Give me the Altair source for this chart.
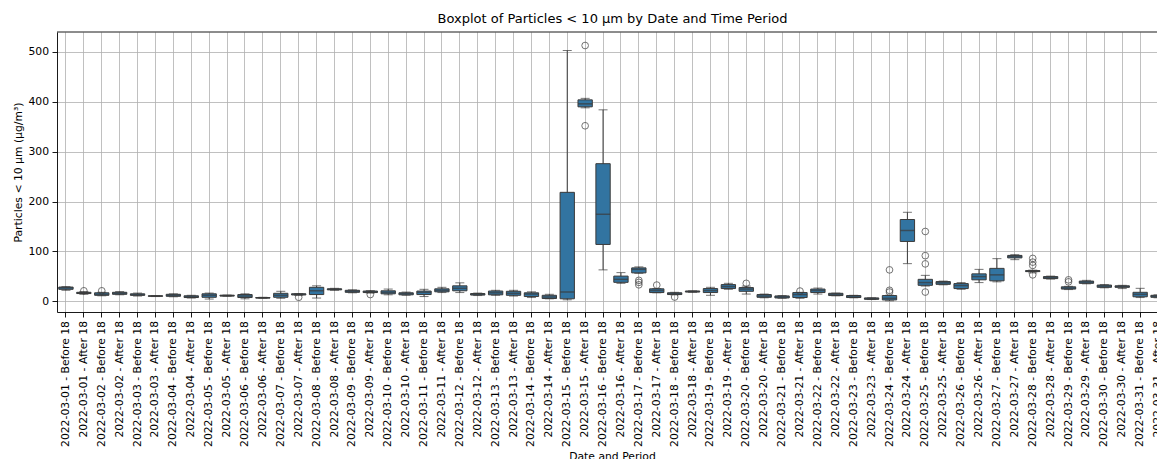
import altair as alt
import pandas as pd

dates = [f"2022-03-{d:02d}" for d in range(1, 32)]
periods = ["Before 18", "After 18"]
categories = [f"{d} - {p}" for d in dates for p in periods]

whisker_low = [22, 14, 11, 13, 10.5, 9.5, 9, 6.5, 4.5, 10, 5, 6, 6, 12, 6.5, 22, 17, 16.5, 13, 12,
               9.5, 17.5, 17.5, 11.5, 12, 10.5, 7.5, 5, 3, 388, 63, 36, 56, 17, 13, 18, 12, 24, 14.5, 7,
               6, 6, 14.5, 11, 7, 3.5, 1, 75.5, 30.5, 33, 24, 37.5, 39, 83.5, 57, 44.5, 23.5, 35, 27, 25.5,
               7.5, 7]
q1 = [24, 15.5, 12, 14, 12, 10, 10, 7.5, 8, 10.5, 7.5, 6.5, 8, 12.7, 13.5, 23, 18, 17.5, 15, 13,
      13.5, 19, 21, 12.5, 13, 12, 9.5, 5.5, 5, 390, 114, 38, 57, 17.5, 13.5, 18.7, 17.5, 25.5, 20, 8,
      6.7, 7.5, 17.5, 11.5, 7.5, 4, 2.7, 120, 32, 34, 25.5, 43, 41, 87, 59.5, 45.5, 24.5, 36, 28, 28,
      9, 8]
median = [27, 17, 14, 16, 13, 10.5, 12, 9, 12, 11.5, 10.5, 7, 12, 14, 21, 24, 20, 19, 18, 15.5,
          18, 22, 26, 14, 17, 16, 14.5, 8.5, 18.5, 396, 174.5, 44, 64, 21.5, 15.5, 19.5, 21.5, 29.5, 24.5, 10.5,
          8.7, 13.5, 21.5, 14, 8.7, 5.3, 6, 142, 37.5, 37, 31.5, 49.5, 53, 89.5, 60.5, 47.5, 26.5, 38.5, 30.5, 29.5,
          14, 10]
q3 = [28.5, 18, 17, 18, 15, 11, 14, 11, 15, 12, 13.5, 7.5, 16, 15, 28, 25, 22, 20.5, 21, 17,
      20.5, 25, 31, 15.5, 20.5, 20, 17, 12, 218.5, 404, 276, 50.5, 67, 25, 17, 20.5, 25.5, 33.5, 27.5, 13.5,
      10.7, 17.5, 24.5, 16, 11.5, 6.7, 11.5, 164, 44, 39.5, 35.5, 55, 66, 92, 61.5, 49.5, 29, 40.5, 32.5, 31,
      18, 12]
whisker_high = [29.5, 19.5, 18, 19.5, 16.5, 11.5, 15, 12, 16.5, 12.5, 15, 8, 20, 15.5, 31, 26, 23, 21.5, 24.5, 18.5,
                24, 28, 37, 16.5, 22, 22, 19, 14, 503, 407, 384, 57.5, 69, 25.5, 18, 21, 28, 36, 30.5, 14.5,
                11.5, 18, 26.5, 16.5, 12, 7, 12, 178.5, 52, 40.5, 37.5, 64, 85.5, 93.5, 62.5, 50.5, 30, 42, 33.5, 32,
                26, 13]

outlier_cat = [1, 2, 13, 17, 29, 29, 32, 32, 32, 33, 34, 38, 41, 46, 46, 46,
               48, 48, 48, 48, 54, 54, 54, 54, 56, 56]
outlier_val = [21, 21, 8, 13.5, 513, 352, 42, 38, 33, 32.5, 8.5, 36, 20.5, 63, 22, 18.5,
               140, 91.5, 75, 18.5, 86, 78.5, 72, 53, 43, 39]

box_df = pd.DataFrame({
    "cat": categories, "lo": whisker_low, "q1": q1, "med": median, "q3": q3, "hi": whisker_high,
})
out_df = pd.DataFrame({"cat": [categories[i] for i in outlier_cat], "val": outlier_val})

FONT = "DejaVu Sans"
EDGE = "#3a3a3a"
FILL = "#3274a1"
YTITLE = "Particles < 10 µm (µg/m³)"

xscale = alt.Scale(type="band", domain=categories, range=[0, 1110], paddingInner=0, paddingOuter=0)
xaxis = alt.Axis(title="Date and Period", labelAngle=-90, grid=True, bandPosition=0.5,
                 titleX=555, titleY=138, titleAlign="center", titleBaseline="top")
x_enc = alt.X("cat:N", scale=xscale, axis=xaxis, sort=categories)

yscale = alt.Scale(domain=[-21.5, 540.1], nice=False, zero=False)
yaxis = alt.Axis(title=YTITLE, values=[0, 100, 200, 300, 400, 500], grid=True,
                 titleX=-39, titleY=140, titleAngle=-90, titleAlign="center", titleBaseline="middle")

base = alt.Chart(box_df)

whiskers = base.mark_rule(color=EDGE, strokeWidth=1).encode(
    x=x_enc, y=alt.Y("lo:Q", scale=yscale, axis=yaxis), y2="hi:Q")
boxes = base.mark_bar(color=FILL, stroke=EDGE, strokeWidth=1, width={"band": 0.8}).encode(
    x=x_enc, y=alt.Y("q1:Q", scale=yscale, axis=yaxis), y2="q3:Q")
medians = base.mark_tick(color=EDGE, thickness=1.5, size=14.3).encode(
    x=x_enc, y=alt.Y("med:Q", scale=yscale, axis=yaxis))
caps_lo = base.mark_tick(color=EDGE, thickness=1, size=9).encode(
    x=x_enc, y=alt.Y("lo:Q", scale=yscale, axis=yaxis))
caps_hi = base.mark_tick(color=EDGE, thickness=1, size=9).encode(
    x=x_enc, y=alt.Y("hi:Q", scale=yscale, axis=yaxis))
outliers = alt.Chart(out_df).mark_point(shape="circle", filled=False, stroke=EDGE,
                                        strokeWidth=1, size=45).encode(
    x=x_enc, y=alt.Y("val:Q", scale=yscale, axis=yaxis))
top_spine = alt.Chart(alt.Data(values=[{"a": 1}])).mark_rule(color="#000", strokeWidth=0.9).encode(
    x=alt.value(0), x2=alt.value(1110), y=alt.value(0))

chart = alt.layer(whiskers, boxes, medians, caps_lo, caps_hi, outliers, top_spine).properties(
    width=1100, height=280,
    title=alt.TitleParams("Boxplot of Particles < 10 µm by Date and Time Period", font=FONT,
                          fontSize=13, fontWeight="normal", color="#000", anchor="middle",
                          offset=6, dx=5.5),
    autosize=alt.AutoSizeParams(type="none"),
    padding={"left": 57, "top": 32, "right": 0, "bottom": 147},
).configure_view(stroke=None).configure_axis(
    domainColor="#000", domainWidth=0.9, tickColor="#000", tickWidth=0.9, tickSize=5,
    labelFont=FONT, labelFontSize=10.8, labelColor="#000", labelPadding=3.5,
    titleFont=FONT, titleFontSize=10.8, titleColor="#000", titleFontWeight="normal",
    gridColor="#b0b0b0", gridWidth=0.8,
)

chart.save("out.html", embed_options={"renderer": "svg", "actions": False})
